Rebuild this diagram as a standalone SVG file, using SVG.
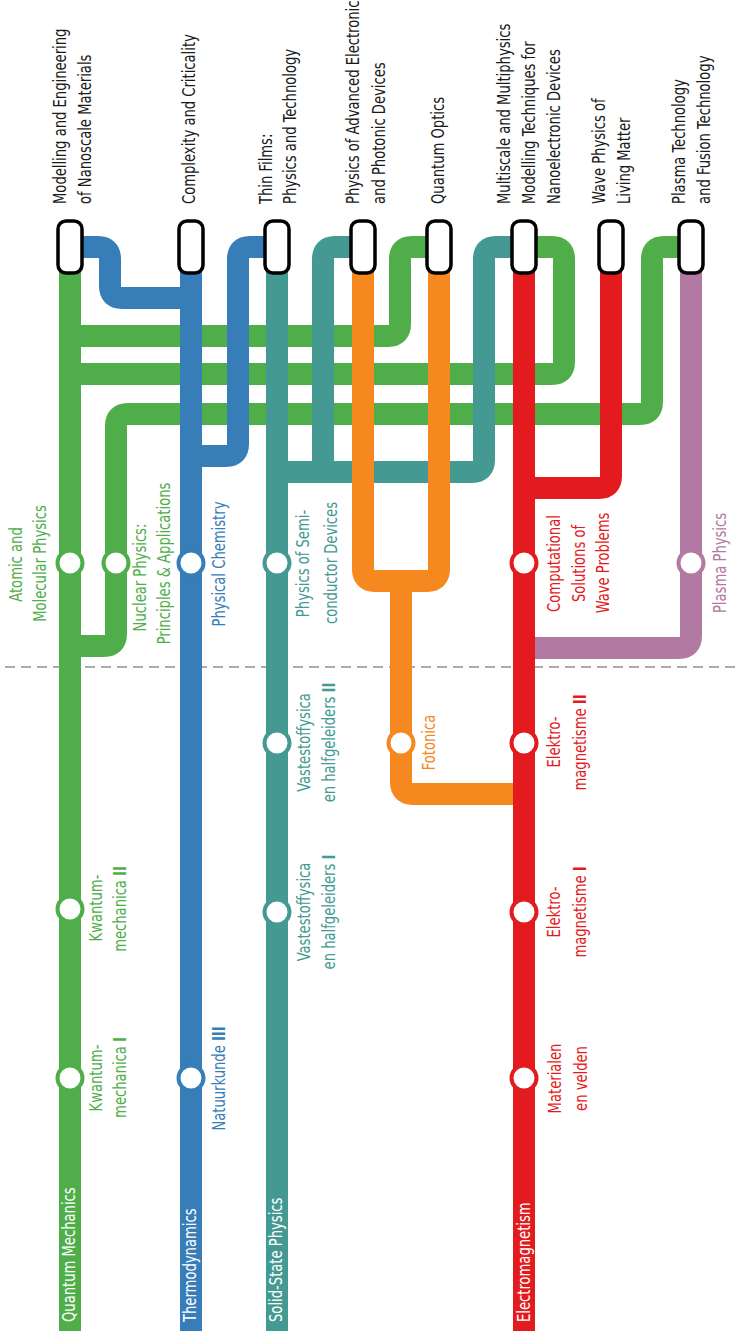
<svg xmlns="http://www.w3.org/2000/svg" width="735" height="1335" viewBox="0 0 735 1335">
<style>
.ln{fill:none;stroke-width:22;stroke-linecap:butt;stroke-linejoin:round}
.g{stroke:#4fae4a}.b{stroke:#377db8}.t{stroke:#449a93}.o{stroke:#f5881e}.r{stroke:#e31b1e}.p{stroke:#b27aa3}
.st{fill:#fff;stroke-width:4}
.term{fill:#fff;stroke:#000;stroke-width:3.5}
text{font-family:"Liberation Sans Narrow","DejaVu Sans Condensed","Liberation Sans",sans-serif;font-size:17px;font-stretch:condensed}
.top{fill:#1a1a1a}
.lg{fill:#4fae4a}.lb{fill:#377db8}.lt{fill:#449a93}.lo{fill:#f5881e}.lr{fill:#e31b1e}.lp{fill:#b27aa3}
.m{text-anchor:middle}
.w{fill:#fff}
.bd{font-weight:700}
</style>
<line x1="5" y1="667" x2="735" y2="667" stroke="#aaaaaa" stroke-width="2" stroke-dasharray="10 6"/>
<g id="connectors">
<path class="ln g" d="M70 247V1331"/>
<path class="ln g" d="M70 336H388Q400 336 400 324V259Q400 247 412 247H439"/>
<path class="ln g" d="M70 374H552Q564 374 564 362V259Q564 247 552 247H524"/>
<path class="ln g" d="M691 247H664Q652 247 652 259V402Q652 414 640 414H128Q116 414 116 426V634Q116 646 104 646H70"/>
<path class="ln b" d="M191 247V1331"/>
<path class="ln b" d="M70 247H98Q110 247 110 259V286Q110 298 122 298H191"/>
<path class="ln b" d="M277 247H250Q238 247 238 259V444Q238 456 226 456H191"/>
<path class="ln t" d="M277 247V1331"/>
<path class="ln t" d="M363 247H335Q323 247 323 259V472"/>
<path class="ln t" d="M277 472H472Q484 472 484 460V259Q484 247 496 247H524"/>
<path class="ln o" d="M363 247V569Q363 581 375 581H427Q439 581 439 569V247"/>
<path class="ln o" d="M401 581V782Q401 794 413 794H524"/>
<path class="ln p" d="M691 247V636Q691 648 679 648H524"/>
<path class="ln r" d="M524 247V1331"/>
<path class="ln r" d="M611 247V476Q611 488 599 488H524"/>
</g>
<g id="stations">
<circle class="st" cx="70" cy="563" r="12.5" stroke="#4fae4a"/>
<circle class="st" cx="116" cy="563" r="12.5" stroke="#4fae4a"/>
<circle class="st" cx="70" cy="909" r="12.5" stroke="#4fae4a"/>
<circle class="st" cx="70" cy="1078" r="12.5" stroke="#4fae4a"/>
<circle class="st" cx="191" cy="563" r="12.5" stroke="#377db8"/>
<circle class="st" cx="191" cy="1078" r="12.5" stroke="#377db8"/>
<circle class="st" cx="277" cy="563" r="12.5" stroke="#449a93"/>
<circle class="st" cx="277" cy="743" r="12.5" stroke="#449a93"/>
<circle class="st" cx="277" cy="912" r="12.5" stroke="#449a93"/>
<circle class="st" cx="401" cy="743" r="12.5" stroke="#f5881e"/>
<circle class="st" cx="524" cy="563" r="12.5" stroke="#e31b1e"/>
<circle class="st" cx="524" cy="743" r="12.5" stroke="#e31b1e"/>
<circle class="st" cx="524" cy="912" r="12.5" stroke="#e31b1e"/>
<circle class="st" cx="524" cy="1078" r="12.5" stroke="#e31b1e"/>
<circle class="st" cx="691" cy="563" r="12.5" stroke="#b27aa3"/>
</g>
<g id="terminals">
<g id="t-modelling"><rect class="term" x="58" y="221" width="24" height="52" rx="8"/>
<text class="top" transform="translate(66 204) rotate(-90) scale(.86 1)">Modelling and Engineering</text>
<text class="top" transform="translate(91 204) rotate(-90) scale(.86 1)">of Nanoscale Materials</text></g>
<g id="t-complexity"><rect class="term" x="179" y="221" width="24" height="52" rx="8"/>
<text class="top" transform="translate(195 204) rotate(-90) scale(.86 1)">Complexity and Criticality</text></g>
<g id="t-thinfilms"><rect class="term" x="265" y="221" width="24" height="52" rx="8"/>
<text class="top" transform="translate(272 204) rotate(-90) scale(.86 1)">Thin Films:</text>
<text class="top" transform="translate(296 204) rotate(-90) scale(.86 1)">Physics and Technology</text></g>
<g id="t-physadv"><rect class="term" x="351" y="221" width="24" height="52" rx="8"/>
<text class="top" transform="translate(359 204) rotate(-90) scale(.86 1)">Physics of Advanced Electronic</text>
<text class="top" transform="translate(385 204) rotate(-90) scale(.86 1)">and Photonic Devices</text></g>
<g id="t-qoptics"><rect class="term" x="427" y="221" width="24" height="52" rx="8"/>
<text class="top" transform="translate(444 204) rotate(-90) scale(.86 1)">Quantum Optics</text></g>
<g id="t-multiscale"><rect class="term" x="512" y="221" width="24" height="52" rx="8"/>
<text class="top" transform="translate(510 204) rotate(-90) scale(.86 1)">Multiscale and Multiphysics</text>
<text class="top" transform="translate(535 204) rotate(-90) scale(.86 1)">Modelling Techniques for</text>
<text class="top" transform="translate(560 204) rotate(-90) scale(.86 1)">Nanoelectronic Devices</text></g>
<g id="t-wave"><rect class="term" x="599" y="221" width="24" height="52" rx="8"/>
<text class="top" transform="translate(605 204) rotate(-90) scale(.86 1)">Wave Physics of</text>
<text class="top" transform="translate(630 204) rotate(-90) scale(.86 1)">Living Matter</text></g>
<g id="t-plasma"><rect class="term" x="679" y="221" width="24" height="52" rx="8"/>
<text class="top" transform="translate(685 204) rotate(-90) scale(.86 1)">Plasma Technology</text>
<text class="top" transform="translate(710 204) rotate(-90) scale(.86 1)">and Fusion Technology</text></g>
</g>
<g id="labels">
<text class="lg m" transform="translate(22 564.5) rotate(-90) scale(.86 1)">Atomic and</text>
<text class="lg m" transform="translate(45.5 563.5) rotate(-90) scale(.86 1)">Molecular Physics</text>
<text class="lg m" transform="translate(145.5 577.5) rotate(-90) scale(.86 1)">Nuclear Physics:</text>
<text class="lg m" transform="translate(170 563.5) rotate(-90) scale(.86 1)">Principles &amp; Applications</text>
<text class="lg m" transform="translate(102 908) rotate(-90) scale(.86 1)">Kwantum-</text>
<text class="lg m" transform="translate(125.5 909) rotate(-90) scale(.86 1)">mechanica <tspan class="bd">II</tspan></text>
<text class="lg m" transform="translate(102 1078) rotate(-90) scale(.86 1)">Kwantum-</text>
<text class="lg m" transform="translate(126 1077.5) rotate(-90) scale(.86 1)">mechanica <tspan class="bd">I</tspan></text>
<text class="lb m" transform="translate(225 564) rotate(-90) scale(.86 1)">Physical Chemistry</text>
<text class="lb m" transform="translate(225 1078.5) rotate(-90) scale(.86 1)">Natuurkunde <tspan class="bd">III</tspan></text>
<text class="lt m" transform="translate(309 563.5) rotate(-90) scale(.86 1)">Physics of Semi-</text>
<text class="lt m" transform="translate(337 563) rotate(-90) scale(.86 1)">conductor Devices</text>
<text class="lt m" transform="translate(310 742.5) rotate(-90) scale(.86 1)">Vastestoffysica</text>
<text class="lt m" transform="translate(335 742.5) rotate(-90) scale(.86 1)">en halfgeleiders <tspan class="bd">II</tspan></text>
<text class="lt m" transform="translate(310 912) rotate(-90) scale(.86 1)">Vastestoffysica</text>
<text class="lt m" transform="translate(335 912) rotate(-90) scale(.86 1)">en halfgeleiders <tspan class="bd">I</tspan></text>
<text class="lo m" transform="translate(435 742.5) rotate(-90) scale(.86 1)">Fotonica</text>
<text class="lr m" transform="translate(560 563.5) rotate(-90) scale(.86 1)">Computational</text>
<text class="lr m" transform="translate(585 563.5) rotate(-90) scale(.86 1)">Solutions of</text>
<text class="lr m" transform="translate(609 563) rotate(-90) scale(.86 1)">Wave Problems</text>
<text class="lr m" transform="translate(560 742) rotate(-90) scale(.86 1)">Elektro-</text>
<text class="lr m" transform="translate(586 742.5) rotate(-90) scale(.86 1)">magnetisme <tspan class="bd">II</tspan></text>
<text class="lr m" transform="translate(560 912) rotate(-90) scale(.86 1)">Elektro-</text>
<text class="lr m" transform="translate(586 912) rotate(-90) scale(.86 1)">magnetisme <tspan class="bd">I</tspan></text>
<text class="lr m" transform="translate(561 1078.5) rotate(-90) scale(.86 1)">Materialen</text>
<text class="lr m" transform="translate(587 1078.5) rotate(-90) scale(.86 1)">en velden</text>
<text class="lp m" transform="translate(726 563) rotate(-90) scale(.86 1)">Plasma Physics</text>
<text class="w" transform="translate(75 1322) rotate(-90) scale(.86 1)">Quantum Mechanics</text>
<text class="w" transform="translate(195.5 1322) rotate(-90) scale(.86 1)">Thermodynamics</text>
<text class="w" transform="translate(282 1322) rotate(-90) scale(.86 1)">Solid-State Physics</text>
<text class="w" transform="translate(529.5 1322) rotate(-90) scale(.86 1)">Electromagnetism</text>
</g>
</svg>
